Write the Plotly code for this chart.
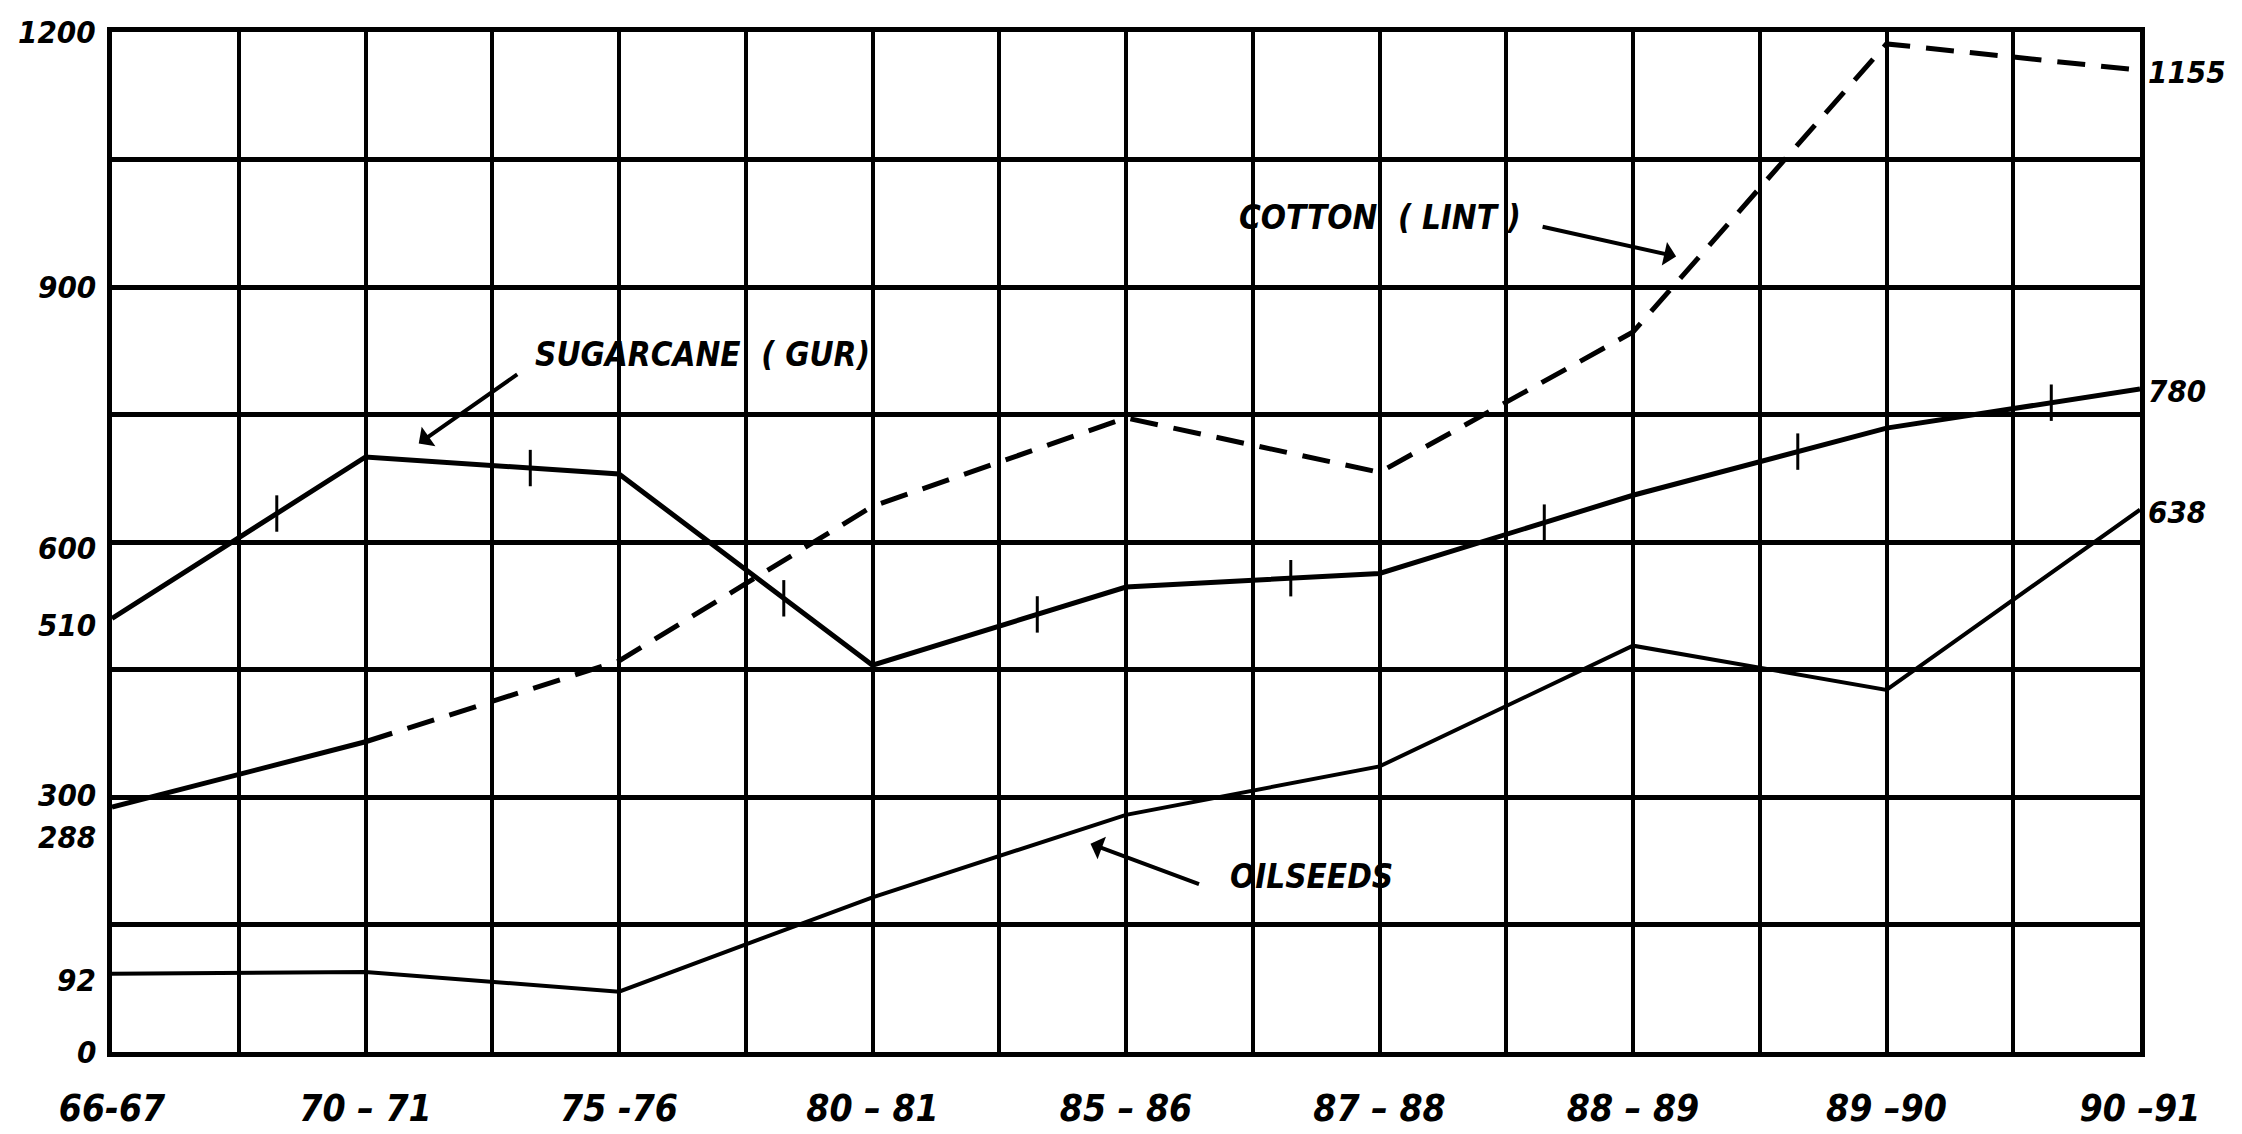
import plotly.graph_objects as go

categories = ["66-67", "70 – 71", "75 -76", "80 – 81", "85 – 86", "87 – 88", "88 – 89", "89 –90", "90 –91"]
sugarcane_gur = [510, 700, 680, 455, 547, 563, 655, 734, 780]
cotton_lint = [288, 365, 460, 642, 746, 682, 847, 1186, 1155]
oilseeds = [92, 94, 71, 182, 279, 336, 478, 426, 638]
left_labels = [1200, 900, 600, 510, 300, 288, 92, 0]
right_labels = [1155, 780, 638]

FONT = "DejaVu Sans Condensed, DejaVu Sans, sans-serif"
n = len(categories)
xs = list(range(n))

fig = go.Figure()

# cotton: first segment solid, rest dashed
fig.add_trace(go.Scatter(x=xs[:2], y=cotton_lint[:2], mode="lines",
                         line=dict(color="black", width=5), cliponaxis=False, showlegend=False))
fig.add_trace(go.Scatter(x=xs[1:], y=cotton_lint[1:], mode="lines",
                         line=dict(color="black", width=5, dash="28px,16px"), cliponaxis=False, showlegend=False))
# sugarcane
fig.add_trace(go.Scatter(x=xs, y=sugarcane_gur, mode="lines",
                         line=dict(color="black", width=5), cliponaxis=False, showlegend=False))
# sugarcane tick marks along segments
tx, ty = [], []
for i in range(n - 1):
    f = 0.65
    tx.append(xs[i] + f)
    ty.append(sugarcane_gur[i] + f * (sugarcane_gur[i + 1] - sugarcane_gur[i]))
fig.add_trace(go.Scatter(x=tx, y=ty, mode="markers",
                         marker=dict(symbol="line-ns", size=26, line=dict(color="black", width=3)),
                         showlegend=False))
# oilseeds
fig.add_trace(go.Scatter(x=xs, y=oilseeds, mode="lines",
                         line=dict(color="black", width=4), cliponaxis=False, showlegend=False))

num_font = dict(family=FONT, size=31, color="black", weight="bold", style="italic")
annotations = []
for v in left_labels:
    ys = 0
    if v == 288:
        ys = -30
    elif v == 300:
        ys = 2
    elif v in (510, 600, 92):
        ys = -6
    annotations.append(dict(x=0, y=v, xref="paper", yref="y", text=str(v), showarrow=False,
                            xanchor="right", yanchor="middle", xshift=-14, yshift=ys, font=num_font))
for v in right_labels:
    annotations.append(dict(x=1, y=v, xref="paper", yref="y", text=str(v), showarrow=False,
                            xanchor="left", yanchor="middle", xshift=6, yshift=-2, font=num_font))

lab_font = dict(family=FONT, size=33, color="black", weight="bold", style="italic")
annotations += [
    dict(x=2.33, y=821, text="SUGARCANE  ( GUR)", showarrow=False, font=lab_font),
    dict(x=1.21, y=716, text="", showarrow=True, ax=100, ay=-70, arrowhead=1, arrowsize=1,
         arrowwidth=4, arrowcolor="black"),
    dict(x=5.0, y=982, text="COTTON  ( LINT )", showarrow=False, font=lab_font),
    dict(x=6.17, y=936, text="", showarrow=True, ax=-135, ay=-30, arrowhead=1, arrowsize=1,
         arrowwidth=4, arrowcolor="black"),
    dict(x=4.73, y=206, text="OILSEEDS", showarrow=False, font=lab_font),
    dict(x=3.86, y=245, text="", showarrow=True, ax=110, ay=41, arrowhead=1, arrowsize=1,
         arrowwidth=4, arrowcolor="black"),
]

fig.update_layout(
    width=2242, height=1134,
    margin=dict(l=104, r=110, t=24, b=70),
    paper_bgcolor="white", plot_bgcolor="white",
    annotations=annotations,
    showlegend=False,
)
fig.update_xaxes(
    range=[0, n - 1], tickvals=xs, ticktext=categories,
    showgrid=True, gridcolor="black", gridwidth=4,
    minor=dict(tickvals=[i + 0.5 for i in range(n - 1)], showgrid=True, gridcolor="black", gridwidth=4),
    showline=True, linecolor="black", linewidth=5, mirror=True,
    zeroline=False, ticks="", ticklabelstandoff=20,
    tickfont=dict(family=FONT, size=37, color="black", weight="bold", style="italic"),
)
fig.update_yaxes(
    range=[0, 1200], tickvals=[150 * k for k in range(9)], showticklabels=False,
    showgrid=True, gridcolor="black", gridwidth=5,
    showline=True, linecolor="black", linewidth=5, mirror=True,
    zeroline=False, ticks="",
)

fig.write_html("out.html")
